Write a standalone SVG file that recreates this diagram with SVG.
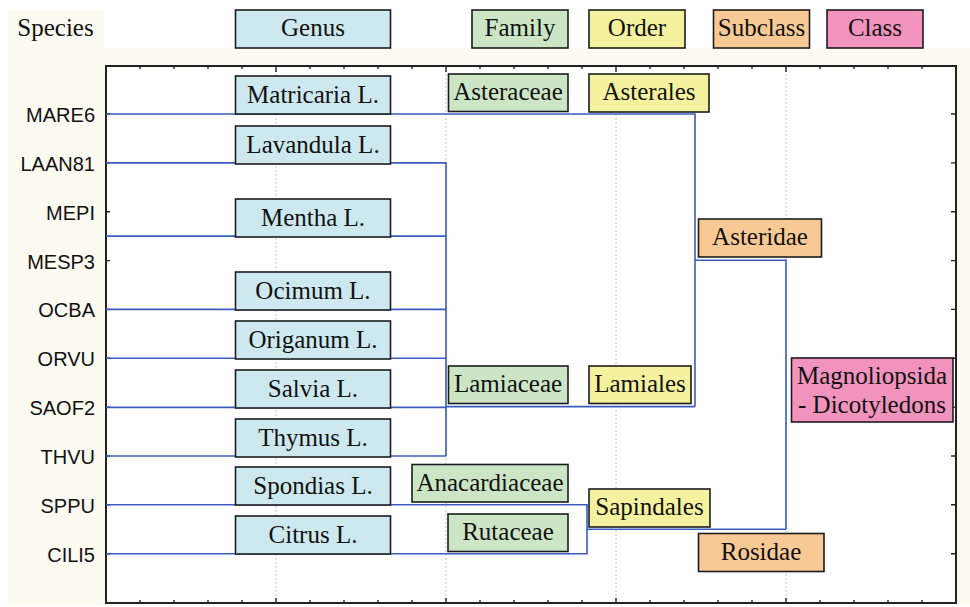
<svg xmlns="http://www.w3.org/2000/svg" width="970" height="607" viewBox="0 0 970 607">
<style>
.bg{fill:#fdfaf2}
.box{stroke:#1c1c1c;stroke-width:1.6}
.genus{fill:#cde9ef}
.family{fill:#cce6c5}
.order{fill:#f4f29e}
.subclass{fill:#f9c995}
.class{fill:#f193bd}
.lbl{font-family:"Liberation Serif","Times New Roman",serif;font-size:25px;fill:#111;text-anchor:middle}
.sp{font-family:"Liberation Sans",Arial,sans-serif;font-size:20px;fill:#111;text-anchor:end}
.grid{stroke:#c4c4c4;stroke-width:1;stroke-dasharray:2 2;fill:none}
.axis{stroke:#222;stroke-width:2;fill:none}
.tick{stroke:#222;stroke-width:1.4}
.den{stroke:#3a5cc0;stroke-width:1.6;fill:none}
</style>
<rect x="0" y="0" width="970" height="607" fill="#ffffff"/>
<rect class="bg" x="8" y="10" width="96" height="38"/>
<rect class="bg" x="8" y="48" width="962" height="557"/>
<rect x="106" y="66" width="850" height="537" fill="#ffffff"/>
<g id="grid">
<line class="grid" x1="276" y1="66" x2="276" y2="602"/>
<line class="grid" x1="446" y1="66" x2="446" y2="602"/>
<line class="grid" x1="616" y1="66" x2="616" y2="602"/>
<line class="grid" x1="786" y1="66" x2="786" y2="602"/>
</g>
<g id="axes">
<rect class="axis" x="106" y="66" width="850" height="537"/>
<path class="tick" d="M140 66v3M174 66v3M208 66v3M242 66v3M276 66v6M310 66v3M344 66v3M378 66v3M412 66v3M446 66v6M480 66v3M514 66v3M548 66v3M582 66v3M616 66v6M650 66v3M684 66v3M718 66v3M752 66v3M786 66v6M820 66v3M854 66v3M888 66v3M922 66v3"/>
<path class="tick" d="M140 603v-3M174 603v-3M208 603v-3M242 603v-3M276 603v-5M310 603v-3M344 603v-3M378 603v-3M412 603v-3M446 603v-5M480 603v-3M514 603v-3M548 603v-3M582 603v-3M616 603v-5M650 603v-3M684 603v-3M718 603v-3M752 603v-3M786 603v-5M820 603v-3M854 603v-3M888 603v-3M922 603v-3"/>
<path class="tick" d="M106 114h4M106 162.9h4M106 211.7h4M106 260.6h4M106 309.4h4M106 358.3h4M106 407.1h4M106 456h4M106 504.8h4M106 553.7h4"/>
<path class="tick" d="M956 114h-5M956 162.9h-5M956 211.7h-5M956 260.6h-5M956 309.4h-5M956 358.3h-5M956 407.1h-5M956 456h-5M956 504.8h-5M956 553.7h-5"/>
</g>
<g id="species-labels">
<text class="lbl" x="55.5" y="36">Species</text>
<text class="sp" x="95" y="122">MARE6</text>
<text class="sp" x="95" y="170.9">LAAN81</text>
<text class="sp" x="95" y="219.7">MEPI</text>
<text class="sp" x="95" y="268.6">MESP3</text>
<text class="sp" x="95" y="317.4">OCBA</text>
<text class="sp" x="95" y="366.3">ORVU</text>
<text class="sp" x="95" y="415.1">SAOF2</text>
<text class="sp" x="95" y="464">THVU</text>
<text class="sp" x="95" y="512.8">SPPU</text>
<text class="sp" x="95" y="561.7">CILI5</text>
</g>
<g id="connectors">
<path class="den" d="M106 114H695V406.6"/>
<path class="den" d="M106 162.9H446V456"/>
<path class="den" d="M106 236.1H446"/>
<path class="den" d="M106 309.4H446"/>
<path class="den" d="M106 358.3H446"/>
<path class="den" d="M106 407.4H446"/>
<path class="den" d="M106 456H446"/>
<path class="den" d="M446 406.6H695"/>
<path class="den" d="M695 260.3H786V529.2"/>
<path class="den" d="M106 504.8H587V553.7H106"/>
<path class="den" d="M587 529.2H786"/>
</g>
<g id="header-genus"><rect class="box genus" x="235.5" y="10" width="155" height="38"/><text class="lbl" x="313" y="36">Genus</text></g>
<g id="header-family"><rect class="box family" x="472" y="10" width="96" height="38"/><text class="lbl" x="520" y="36">Family</text></g>
<g id="header-order"><rect class="box order" x="589" y="10" width="96" height="38"/><text class="lbl" x="637" y="36">Order</text></g>
<g id="header-subclass"><rect class="box subclass" x="713.5" y="10" width="96" height="38"/><text class="lbl" x="761.5" y="36">Subclass</text></g>
<g id="header-class"><rect class="box class" x="827" y="10" width="96" height="38"/><text class="lbl" x="875" y="36">Class</text></g>

<g id="genus-matricaria"><rect class="box genus" x="235.5" y="76" width="155" height="38"/><text class="lbl" x="313" y="102.5">Matricaria L.</text></g>
<g id="genus-lavandula"><rect class="box genus" x="235.5" y="126" width="155" height="38"/><text class="lbl" x="313" y="152.5">Lavandula L.</text></g>
<g id="genus-mentha"><rect class="box genus" x="235.5" y="199" width="155" height="38"/><text class="lbl" x="313" y="225.5">Mentha L.</text></g>
<g id="genus-ocimum"><rect class="box genus" x="235.5" y="272" width="155" height="38"/><text class="lbl" x="313" y="298.5">Ocimum L.</text></g>
<g id="genus-origanum"><rect class="box genus" x="235.5" y="321" width="155" height="38"/><text class="lbl" x="313" y="347.5">Origanum L.</text></g>
<g id="genus-salvia"><rect class="box genus" x="235.5" y="370" width="155" height="38"/><text class="lbl" x="313" y="396.5">Salvia L.</text></g>
<g id="genus-thymus"><rect class="box genus" x="235.5" y="419" width="155" height="38"/><text class="lbl" x="313" y="445.5">Thymus L.</text></g>
<g id="genus-spondias"><rect class="box genus" x="235.5" y="467" width="155" height="38"/><text class="lbl" x="313" y="493.5">Spondias L.</text></g>
<g id="genus-citrus"><rect class="box genus" x="235.5" y="516" width="155" height="38"/><text class="lbl" x="313" y="542.5">Citrus L.</text></g>

<g id="family-asteraceae"><rect class="box family" x="448.5" y="74" width="119.5" height="37.5"/><text class="lbl" x="508" y="100">Asteraceae</text></g>
<g id="family-lamiaceae"><rect class="box family" x="448.5" y="366" width="119.5" height="37.5"/><text class="lbl" x="508" y="392">Lamiaceae</text></g>
<g id="family-anacardiaceae"><rect class="box family" x="412" y="464.5" width="156" height="37.5"/><text class="lbl" x="490" y="490.5">Anacardiaceae</text></g>
<g id="family-rutaceae"><rect class="box family" x="448" y="514" width="120" height="37.5"/><text class="lbl" x="508" y="540">Rutaceae</text></g>

<g id="order-asterales"><rect class="box order" x="589" y="74" width="120" height="38"/><text class="lbl" x="649" y="100">Asterales</text></g>
<g id="order-lamiales"><rect class="box order" x="589" y="366" width="102" height="37.5"/><text class="lbl" x="640" y="392">Lamiales</text></g>
<g id="order-sapindales"><rect class="box order" x="589" y="489" width="121" height="38"/><text class="lbl" x="649.5" y="515">Sapindales</text></g>

<g id="subclass-asteridae"><rect class="box subclass" x="698.5" y="219" width="123" height="38"/><text class="lbl" x="760" y="245">Asteridae</text></g>
<g id="subclass-rosidae"><rect class="box subclass" x="698.5" y="533.5" width="125.5" height="38"/><text class="lbl" x="761" y="559.5">Rosidae</text></g>

<g id="class-magnoliopsida"><rect class="box class" x="791.5" y="358" width="161.5" height="64"/><text class="lbl" x="872" y="384.3">Magnoliopsida</text><text class="lbl" x="872" y="412.7">- Dicotyledons</text></g>
</svg>
